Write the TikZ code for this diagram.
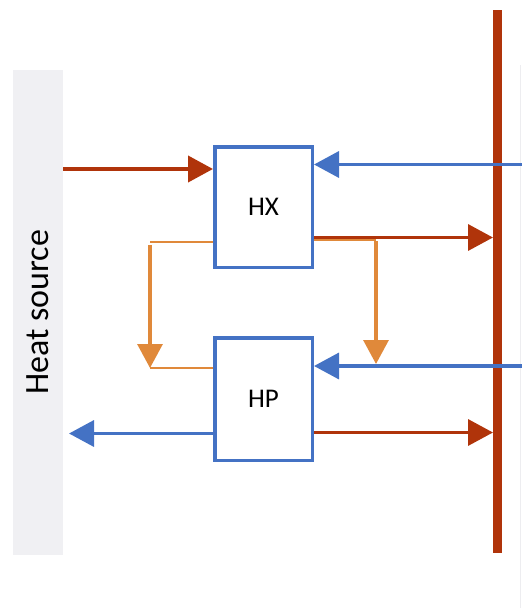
\documentclass[tikz,border=0pt]{standalone}
\usepackage{fontspec}
\setmainfont{Carlito}
\usetikzlibrary{arrows.meta}
\definecolor{hotred}{HTML}{B0340A}
\definecolor{coldblue}{HTML}{4472C4}
\definecolor{warmorange}{HTML}{E0893A}
\definecolor{srcgray}{HTML}{F0F0F3}
\definecolor{edgegray}{HTML}{EDEDF0}
\tikzset{
  unitbox/.style={draw=coldblue, line width=3.5pt, fill=white, minimum width=97.5pt, minimum height=120.5pt, inner sep=0pt, font=\fontsize{27}{30}\selectfont},
  srcbox/.style={fill=srcgray, draw=none, minimum width=485pt, minimum height=50pt, rotate=90, inner sep=0pt, font=\fontsize{34}{38}\selectfont},
  bigtip/.style={-{Triangle[length=25pt,width=26pt]}},
  redflow/.style={draw=hotred, line width=4pt, bigtip},
  blueflow/.style={draw=coldblue, line width=3.5pt, bigtip},
  orangeflow/.style={draw=warmorange, line width=2.2pt},
  orangevert/.style={draw=warmorange, line width=3.2pt, -{Triangle[length=24pt,width=25pt]}},
  busline/.style={draw=hotred, line width=9.5pt},
}
\begin{document}
\begin{tikzpicture}[x=1pt,y=-1pt]
\useasboundingbox (0,0) rectangle (522,608);
% faint edge of a cut-off box at the right
\coordinate (edgetop) at (520,65);
\coordinate (edgebot) at (520,608);
\draw[edgegray, line width=1pt] (edgetop) -- (edgebot);
% heat source
\node[srcbox] (hs) at (38,312.5) {Heat source};
% units
\node[unitbox] (hx) at (263.5,207) {HX};
\node[unitbox, minimum height=122.5pt] (hp) at (263.5,399) {HP};
% bus
\coordinate (bustop) at (497.5,10);
\coordinate (busbot) at (497.5,553);
\coordinate (bus) at (493,0);
\draw[busline] (bustop) -- (busbot);
% level coordinates
\coordinate (l1) at (0,169);
\coordinate (l3) at (0,237.5);
\coordinate (l4) at (0,240);
\coordinate (l5) at (0,242);
\coordinate (l6) at (0,368);
\coordinate (l8) at (0,432.5);
\coordinate (rin1) at (522,164.5);
\coordinate (rin2) at (522,366);
\coordinate (leftcol) at (150,0);
\coordinate (rightcol) at (376,0);
\coordinate (sinkout) at (69,433.5);
% orange flows
\draw[orangeflow] (hx.east |- l4) -- (rightcol |- l4);
\draw[orangevert] (rightcol |- 0,241) -- (rightcol |- 0,364);
\draw[orangeflow] (hx.west |- l5) -- (leftcol |- l5);
\draw[orangevert] (leftcol |- 0,245) -- (leftcol |- l6);
\draw[orangeflow] (leftcol |- l6) -- (hp.west |- l6);
% red flows
\draw[redflow] (hs.south |- l1) -- (hx.west |- l1);
\draw[redflow, line width=3.5pt] (hx.east |- l3) -- (bus |- l3);
\draw[redflow, line width=3.5pt] (hp.east |- l8) -- (bus |- l8);
% blue flows
\draw[blueflow] (rin1) -- (hx.east |- rin1);
\draw[blueflow] (rin2) -- (hp.east |- rin2);
\draw[blueflow] (hp.west |- sinkout) -- (sinkout);
\end{tikzpicture}
\end{document}
